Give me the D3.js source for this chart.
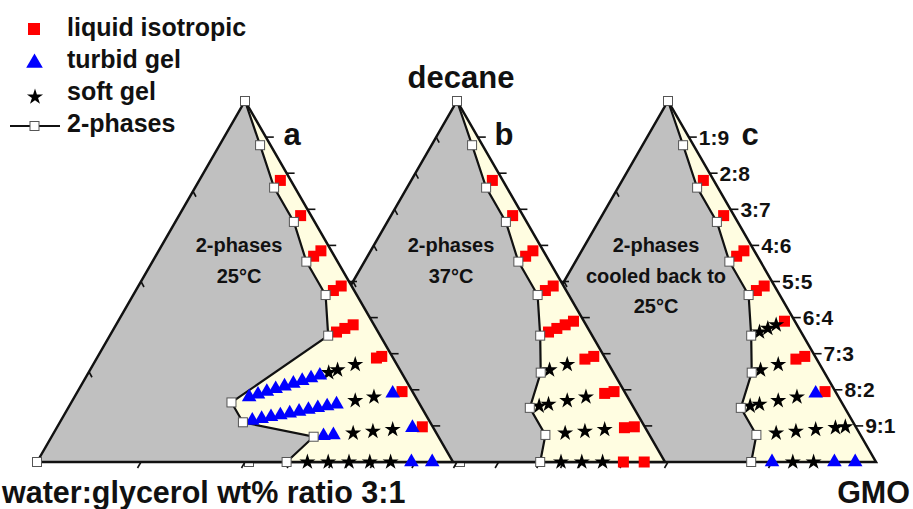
<!DOCTYPE html>
<html>
<head>
<meta charset="utf-8">
<script src="https://cdn.jsdelivr.net/npm/d3@7"></script>
<style>
  body { margin: 0; background: #fff; }
  svg text { font-family: "Liberation Sans", Arial, sans-serif; font-weight: bold; fill: #111; }
</style>
</head>
<body>
<div id="chart"></div>
<script>
// GMO:decane ratio rows on the right edge (row k = k tenths GMO)
const ratioLabels = ["1:9", "2:8", "3:7", "4:6", "5:5", "6:4", "7:3", "8:2", "9:1"];
const panelLetters = ["a", "b", "c"];
const panelTitles = [
  ["2-phases", "25°C"],
  ["2-phases", "37°C"],
  ["2-phases", "cooled back to", "25°C"]
];

// phase boundary, [row, water:glycerol fraction]
const boundaryA = [[0, 0], [1, 0.025], [2, 0.05], [3, 0.05], [4, 0.075], [5, 0.075], [6, 0.125], [7, 0.45], [8, 0.45], [9, 0.3], [10, 0.4]];
const boundaryB = [[0, 0], [1, 0.025], [2, 0.05], [3, 0.05], [4, 0.075], [5, 0.075], [6, 0.125], [7, 0.175], [8, 0.25], [9, 0.25], [10, 0.3]];
const boundaryC = [[0, 0], [1, 0.025], [2, 0.05], [3, 0.05], [4, 0.075], [5, 0.075], [6, 0.125], [7, 0.175], [8, 0.25], [9, 0.25], [10, 0.3]];

// samples, [row, water:glycerol fraction]
const liquidA = [[2, 0.025], [3, 0.025], [4, 0.05], [4, 0.025], [5, 0.05], [5, 0.025], [6, 0.1], [6, 0.075], [6, 0.05], [7, 0.04], [7, 0.025], [8, 0.025], [9, 0.025]];
const turbidA = [
  [7, 0.4], [7, 0.375], [7, 0.35], [7, 0.325], [7, 0.3], [7, 0.275], [7, 0.25], [7, 0.225], [7, 0.2],
  [8, 0.425], [8, 0.4], [8, 0.375], [8, 0.35], [8, 0.325], [8, 0.3], [8, 0.275], [8, 0.25], [8, 0.225], [8, 0.2],
  [8, 0.05], [9, 0.275], [9, 0.25], [9, 0.05], [10, 0.1], [10, 0.05]
];
const softA = [[7, 0.175], [7, 0.15], [7, 0.1], [8, 0.15], [8, 0.1], [9, 0.2], [9, 0.15], [9, 0.1], [10, 0.35], [10, 0.3], [10, 0.25], [10, 0.2], [10, 0.15]];

const liquidB = [[2, 0.025], [3, 0.025], [4, 0.05], [4, 0.025], [5, 0.05], [5, 0.025], [6, 0.1], [6, 0.075], [6, 0.05], [6, 0.025], [7, 0.05], [7, 0.025], [8, 0.05], [8, 0.025], [9, 0.05], [9, 0.025], [10, 0.1], [10, 0.05]];
const turbidB = [];
const softB = [[7, 0.15], [7, 0.1], [8, 0.225], [8, 0.2], [8, 0.15], [8, 0.1], [9, 0.2], [9, 0.15], [9, 0.1], [10, 0.25], [10, 0.2], [10, 0.15]];

const liquidC = [[2, 0.025], [3, 0.025], [4, 0.05], [4, 0.025], [5, 0.05], [5, 0.025], [6, 0.025], [7, 0.05], [7, 0.025], [8, 0.025]];
const turbidC = [[8, 0.05], [10, 0.25], [10, 0.1], [10, 0.05]];
const softC = [[6, 0.1], [6, 0.075], [6, 0.05], [7, 0.15], [7, 0.1], [8, 0.225], [8, 0.2], [8, 0.15], [8, 0.1], [9, 0.2], [9, 0.15], [9, 0.1], [9, 0.05], [9, 0.025], [10, 0.2], [10, 0.15]];

const panels = [
  { boundary: boundaryA, liquid: liquidA, turbid: turbidA, soft: softA, apex: 245, ticks: 4 },
  { boundary: boundaryB, liquid: liquidB, turbid: turbidB, soft: softB, apex: 457, ticks: 10 },
  { boundary: boundaryC, liquid: liquidC, turbid: turbidC, soft: softC, apex: 668, ticks: 4 }
];

const width = 913, height = 509;
const half = 208, topY = 101, baseY = 462;
const gray = "#c0c0c0", cream = "#fffde1";

const svg = d3.select("#chart").append("svg")
  .attr("width", width)
  .attr("height", height);

function drawPanel(i) {
  const p = panels[i];
  const x = d3.scaleLinear().domain([0, 1]).range([p.apex - half, p.apex + half]);
  const y = d3.scaleLinear().domain([0, 1]).range([baseY, topY]);
  // point on the line from the water corner to ratio row k
  function pos(k, w) {
    const g = (1 - w) * k / 10, d = (1 - w) * (1 - k / 10);
    return [x(g + d / 2), y(d)];
  }
  const g = svg.append("g");
  const corners = [[x(0), y(0)], [x(0.5), y(1)], [x(1), y(0)]];

  g.append("path")
    .attr("d", "M" + corners.join("L") + "Z")
    .style("fill", gray);

  const bpts = p.boundary.map(d => pos(d[0], d[1]));
  const creamPts = [pos(0, 0), pos(10, 0)].concat(bpts.slice().reverse());
  g.append("path")
    .attr("d", "M" + creamPts.join("L") + "Z")
    .style("fill", cream);

  // ticks
  const tk = [];
  for (let k = 1; k < 10; k++) {
    const q = pos(k, 0);
    tk.push([q, [q[0] + 8, q[1]]]);
  }
  for (let j = 1; j < p.ticks; j++) {
    const t = j / p.ticks;
    const l = [x(t / 2), y(t)];
    tk.push([l, [l[0] + 3, l[1] + 5.5]]);
    const b = [x(t), y(0)];
    tk.push([b, [b[0] - 3.5, b[1] + 6]]);
  }
  g.selectAll(".tick").data(tk).enter().append("path")
    .attr("d", d => "M" + d[0] + "L" + d[1])
    .style("stroke", "#111")
    .style("stroke-width", 1.6);

  g.append("path")
    .attr("d", "M" + corners.join("L") + "Z")
    .style("fill", "none")
    .style("stroke", "#111")
    .style("stroke-width", 2.5)
    .style("stroke-linejoin", "miter");

  g.append("path")
    .attr("d", d3.line()(bpts))
    .style("fill", "none")
    .style("stroke", "#111")
    .style("stroke-width", 2.2);

  // titles inside the two-phase region
  const tx = p.apex - (i === 2 ? 12 : 6);
  panelTitles[i].forEach((s, j) => {
    g.append("text")
      .attr("x", tx)
      .attr("y", 252 + j * 30.5)
      .attr("text-anchor", "middle")
      .style("font-size", "20px")
      .text(s);
  });

  g.selectAll(".liq").data(p.liquid).enter().append("rect")
    .attr("x", d => pos(d[0], d[1])[0] - 5.5)
    .attr("y", d => pos(d[0], d[1])[1] - 5.5)
    .attr("width", 11)
    .attr("height", 11)
    .style("fill", "#ff0000");

  g.selectAll(".soft").data(p.soft).enter().append("path")
    .attr("d", d3.symbol().type(d3.symbolStar).size(80))
    .attr("transform", d => "translate(" + pos(d[0], d[1]) + ")")
    .style("fill", "#000");

  g.selectAll(".turb").data(p.turbid).enter().append("path")
    .attr("d", d3.symbol().type(d3.symbolTriangle).size(92))
    .attr("transform", d => "translate(" + pos(d[0], d[1]) + ")")
    .style("fill", "#0000ff");

  const marks = bpts.concat([[x(0), y(0)]]);
  g.selectAll(".bnd").data(marks).enter().append("rect")
    .attr("x", d => d[0] - 4.5)
    .attr("y", d => d[1] - 4.5)
    .attr("width", 9)
    .attr("height", 9)
    .style("fill", "#fff")
    .style("stroke", "#555")
    .style("stroke-width", 1);

  g.append("text")
    .attr("x", p.apex + (i === 2 ? 82 : 47))
    .attr("y", 145)
    .attr("text-anchor", "middle")
    .style("font-size", "31px")
    .text(panelLetters[i]);

  if (i === 2) {
    g.selectAll(".rl").data(ratioLabels).enter().append("text")
      .attr("x", (d, k) => pos(k + 1, 0)[0] + 10)
      .attr("y", (d, k) => pos(k + 1, 0)[1] + 7.5)
      .style("font-size", "21px")
      .text(d => d);
  }
}

// c at the back, a in front
drawPanel(2);
drawPanel(1);
drawPanel(0);

svg.append("text").attr("x", 461).attr("y", 88).attr("text-anchor", "middle")
  .style("font-size", "31px").text("decane");
svg.append("text").attr("x", 2).attr("y", 503)
  .style("font-size", "30.5px").text("water:glycerol wt% ratio 3:1");
svg.append("text").attr("x", 910).attr("y", 503).attr("text-anchor", "end")
  .style("font-size", "30.5px").text("GMO");

// legend
const legendLabels = ["liquid isotropic", "turbid gel", "soft gel", "2-phases"];
const leg = svg.append("g");
leg.append("rect").attr("x", 28).attr("y", 23).attr("width", 12).attr("height", 12).style("fill", "#ff0000");
leg.append("path").attr("d", d3.symbol().type(d3.symbolTriangle).size(120))
  .attr("transform", "translate(34.5,63)").style("fill", "#0000ff");
leg.append("path").attr("d", d3.symbol().type(d3.symbolStar).size(80))
  .attr("transform", "translate(35,97)").style("fill", "#000");
leg.append("line").attr("x1", 10).attr("x2", 60).attr("y1", 126).attr("y2", 126)
  .style("stroke", "#111").style("stroke-width", 2);
leg.append("rect").attr("x", 30).attr("y", 121.5).attr("width", 9).attr("height", 9)
  .style("fill", "#fff").style("stroke", "#555");
leg.selectAll(".lt").data(legendLabels).enter().append("text")
  .attr("x", 67)
  .attr("y", (d, j) => 36 + j * 32)
  .style("font-size", "25px")
  .text(d => d);
</script>
</body>
</html>
